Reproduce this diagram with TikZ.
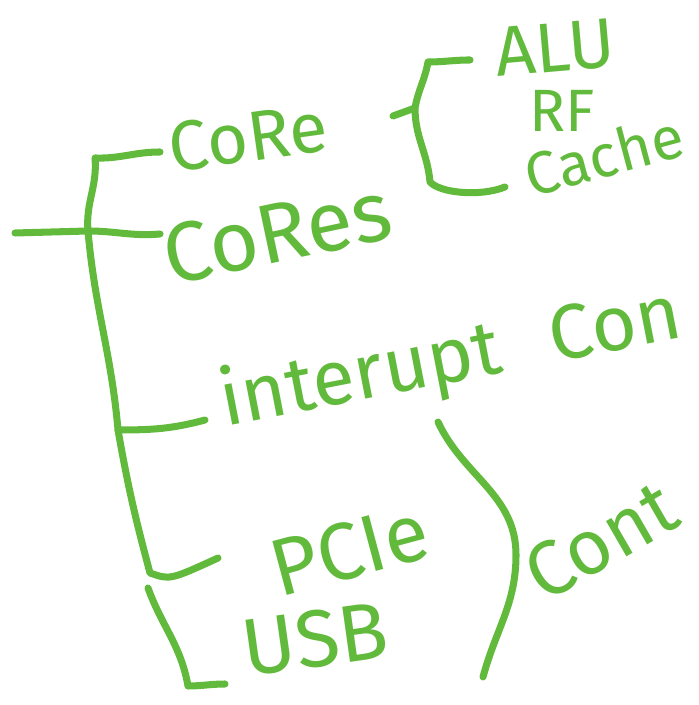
\documentclass[tikz,border=0pt]{standalone}
\usepackage[]{color}
\usepackage{fontspec}
\setmainfont{Fira Sans}
\usepackage{tikz}
\definecolor{marker}{RGB}{98,186,60}
\tikzset{
  pen/.style = {line width = 4pt, color = marker, line cap = round, line join = round},
  hand/.style = {text = marker, inner sep = 0pt, font = \fontsize{40}{40}\selectfont}
}

\begin{document}
\begin{tikzpicture}[x = 0.02cm, y = 0.02cm]
\useasboundingbox (0, 0) rectangle (698, 705);
% joints of the tree
\coordinate (root) at (15, 472);
\coordinate (top) at (88, 474);
\coordinate (topup) at (95, 547);
\coordinate (coreend) at (160, 553);
\coordinate (coresend) at (160, 471);
\coordinate (mid) at (118, 275);
\coordinate (intend) at (205, 285);
\coordinate (pcielow) at (150, 132);
\coordinate (pcieend) at (218, 147);
\coordinate (usbtop) at (148, 117);
\coordinate (usblow) at (188, 19);
\coordinate (usbend) at (225, 21);
% the brace after core
\coordinate (tick) at (393, 589);
\coordinate (brace) at (415, 597);
\coordinate (bracetop) at (428, 643);
\coordinate (aluend) at (470, 645);
\coordinate (bracelow) at (430, 523);
\coordinate (cacheend) at (505, 518);
% the paren round pcie and usb
\coordinate (parentop) at (438, 283);
\coordinate (parenmid) at (516, 150);
\coordinate (parenlow) at (483, 28);

\node (core) at (248, 568) [hand, rotate = 8] {CoRe};
\node (cores) at (277, 472) [hand, rotate = 12, scale = 1.2] {CoRes};
\node (alu) at (555, 657) [hand, rotate = 5] {ALU};
\node (rf) at (562, 594) [hand, scale = 0.85] {RF};
\node (cache) at (604, 550) [hand, rotate = 15, scale = 0.85] {Cache};
\node (intr) at (228, 262) [hand, anchor = south west, rotate = 11, scale = 1.1] {interupt \hspace{0.4em}Con};
\node (pcie) at (350, 155) [hand, rotate = 15, scale = 1.15] {PCIe};
\node (usb) at (315, 66) [hand, rotate = 8, scale = 1.15] {USB};
\node (contr) at (545, 100) [hand, anchor = south west, rotate = 30, scale = 1.1] {Cont};

\draw [pen] (root) to (top) to [out = 0, in = 185] (coresend);
\draw [pen] (top) to [out = 95, in = -85] (topup) to [out = -2, in = 180] (coreend);
\draw [pen] (top) to [out = -85, in = 95] (mid) to [out = 0, in = 195] (intend);
\draw [pen] (mid) to [out = -80, in = 105] (pcielow) .. controls (170, 125) .. (pcieend);
\draw [pen] (usbtop) to [out = -70, in = 100] (usblow) to [out = 0, in = 180] (usbend);
\draw [pen] (tick) to [out = 20, in = 200] (brace);
\draw [pen] (aluend) to [out = 180, in = 0] (bracetop) to [out = -100, in = 80] (brace) to [out = -90, in = 95] (bracelow) .. controls (440, 512) and (480, 508) .. (cacheend);
\draw [pen] (parentop) to [out = -65, in = 90] (parenmid) to [out = -90, in = 75] (parenlow);
\end{tikzpicture}
\end{document}
